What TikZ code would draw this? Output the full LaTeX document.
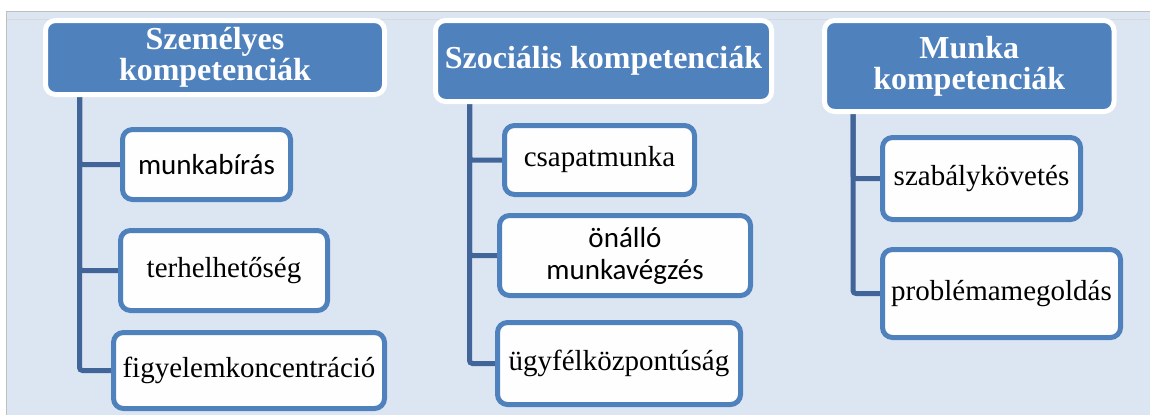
\documentclass[tikz,border=0pt]{standalone}
\usepackage{fontspec}
\setmainfont{Liberation Serif}
\newfontfamily\calibri{Carlito}
\usetikzlibrary{positioning, backgrounds}

\definecolor{hatter}{RGB}{220,230,242}
\definecolor{fejkek}{RGB}{79,129,189}
\definecolor{keret}{RGB}{79,129,189}
\definecolor{vonal}{RGB}{65,101,152}
\definecolor{szurke}{RGB}{192,192,192}

\begin{document}
\begin{tikzpicture}[x=1pt, y=-1pt,
    fej/.style={draw=white, line width=5pt, fill=fejkek, rounded corners=10pt, text=white,
      font=\fontsize{32}{31}\selectfont\bfseries, align=center, inner sep=0pt},
    elem/.style={draw=keret, line width=5pt, fill=white!97!hatter, rounded corners=10pt,
      font=\fontsize{29}{32}\selectfont, align=center, inner sep=0pt},
    ag/.style={draw=vonal, line width=5pt, rounded corners=3pt}]
    \useasboundingbox (0, 0) rectangle (1150, 415);

    \node[fej, minimum width=339, minimum height=74] (szemelyes) at (215, 57.5){Személyes\\kompetenciák};
    \node[fej, minimum width=336, minimum height=81] (szocialis) at (603.5, 61){Szociális kompetenciák};
    \node[fej, minimum width=289.5, minimum height=91] (munka) at (969.25, 66){Munka\\kompetenciák};

    \node[elem, minimum width=168, minimum height=70] (munkabiras) at (206.5, 164.5){\calibri munkabírás};
    \node[elem, minimum width=207, minimum height=80] (terhelhetoseg) at (224, 270.5){terhelhetőség};
    \node[elem, minimum width=271, minimum height=76] (figyelem) at (249, 370.5){figyelemkoncentráció};
    \node[elem, minimum width=190, minimum height=69] (csapat) at (599.5, 160){csapatmunka};
    \node[elem, minimum width=251, minimum height=80] (onallo) at (625, 255.5){\calibri önálló\\\calibri munkavégzés};
    \node[elem, minimum width=243, minimum height=82] (ugyfel) at (619, 363.5){ügyfélközpontúság};
    \node[elem, minimum width=198, minimum height=82] (szabaly) at (981.5, 178.5){szabálykövetés};
    \node[elem, minimum width=238, minimum height=88] (problema) at (1001.5, 293.5){problémamegoldás};

    \coordinate (t1) at (79.5, 95);
    \coordinate (t2) at (469.5, 101);
    \coordinate (t3) at (853, 112);

    \begin{pgfonlayer}{background}
    \fill[white](0, 0) rectangle (1150, 415);
    \fill[hatter](7, 12) rectangle (1150, 415);
    \draw[szurke, line width=1.5pt](6.5, 415)--(6.5, 11.5)--(1150, 11.5);
    \draw[szurke!60, line width=1pt](7, 19.5)--(1150, 19.5);

    \draw[ag](t1) |- (munkabiras.west);
    \draw[ag](t1) |- (terhelhetoseg.west);
    \draw[ag](t1) |- (figyelem.west);
    \draw[ag](t2) |- (csapat.west);
    \draw[ag](t2) |- (onallo.west);
    \draw[ag](t2) |- (ugyfel.west);
    \draw[ag](t3) |- (szabaly.west);
    \draw[ag](t3) |- (problema.west);
    \end{pgfonlayer}
\end{tikzpicture}
\end{document}
